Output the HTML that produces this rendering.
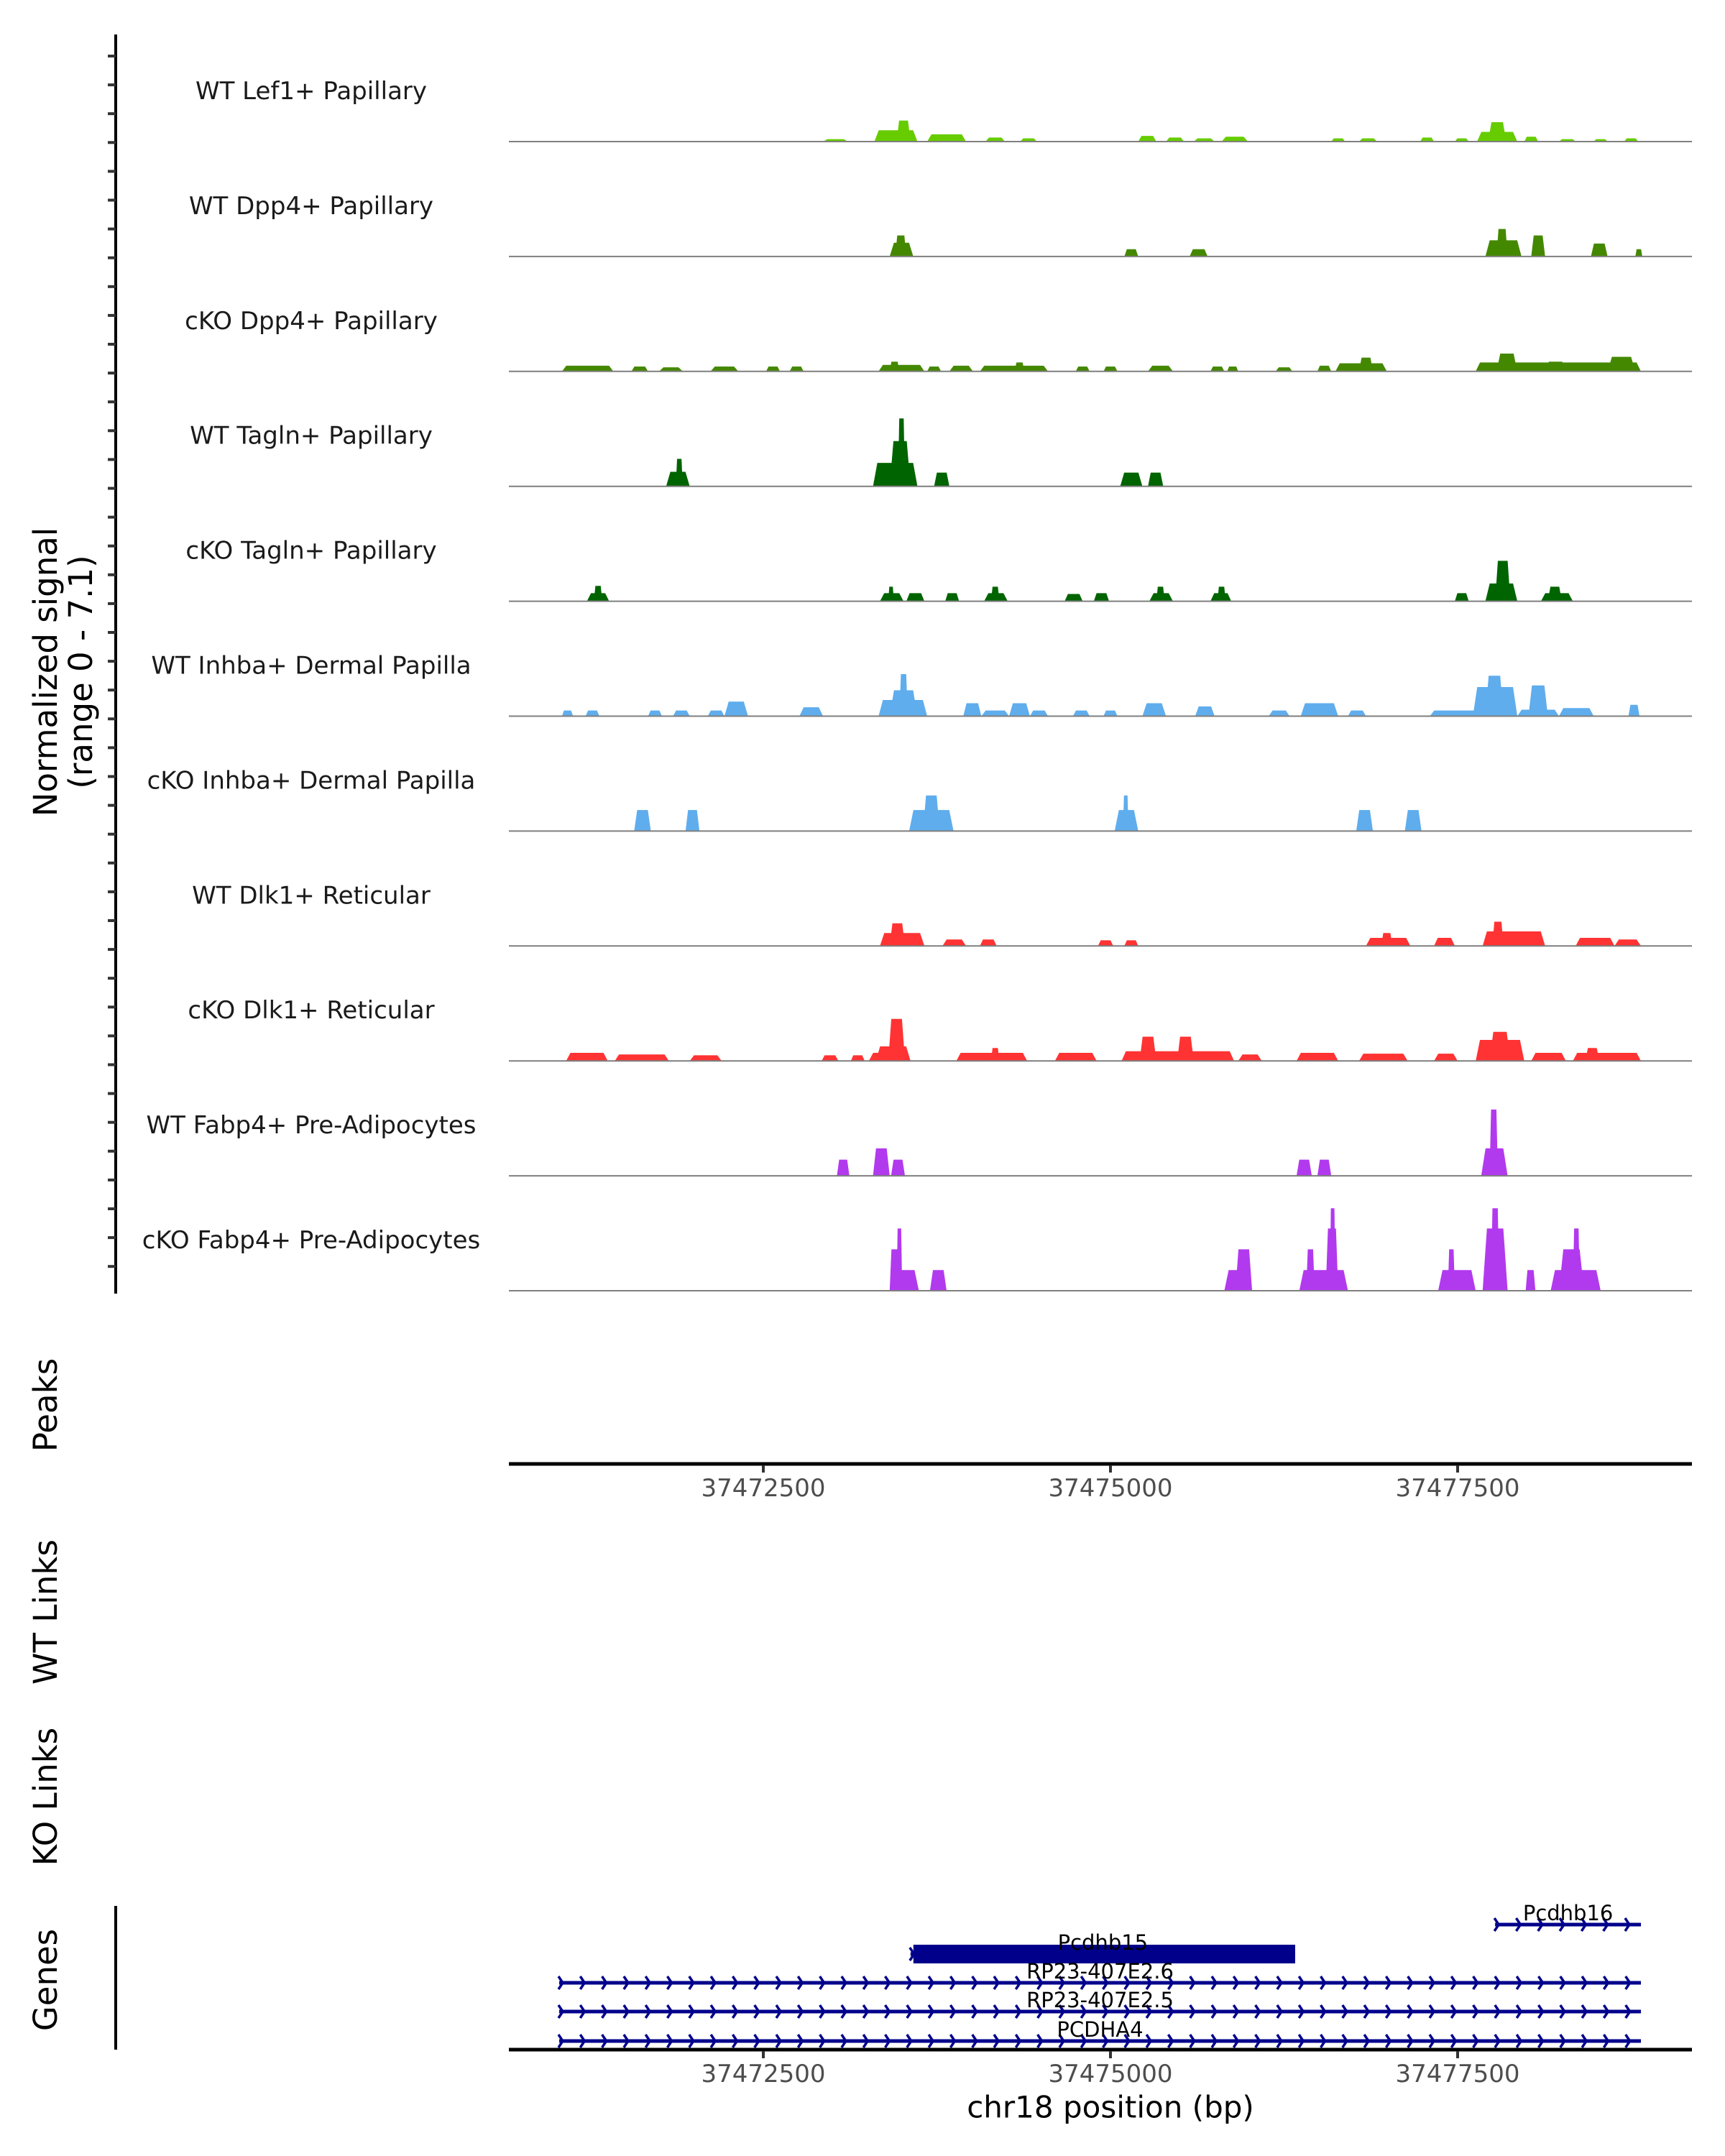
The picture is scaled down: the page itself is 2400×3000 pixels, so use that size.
<!DOCTYPE html>
<html><head><meta charset="utf-8"><title>Coverage plot chr18</title>
<style>
html,body{margin:0;padding:0;background:#fff;}
svg{display:block;font-family:"DejaVu Sans","Liberation Sans",sans-serif;}
</style></head>
<body>
<svg id="chart" width="2400" height="3000" viewBox="0 0 2400 3000" xmlns="http://www.w3.org/2000/svg"></svg>
<script>
// ---- data ----
const trackNames = ["WT Lef1+ Papillary","WT Dpp4+ Papillary","cKO Dpp4+ Papillary","WT Tagln+ Papillary","cKO Tagln+ Papillary","WT Inhba+ Dermal Papilla","cKO Inhba+ Dermal Papilla","WT Dlk1+ Reticular","cKO Dlk1+ Reticular","WT Fabp4+ Pre-Adipocytes","cKO Fabp4+ Pre-Adipocytes"];
const trackColors = ["#66cc00","#448800","#448800","#006400","#006400","#5faded","#5faded","#ff3333","#ff3333","#b23aee","#b23aee"];
const xTicks = [37472500,37475000,37477500];
const xTickLabels = ["37472500","37475000","37477500"];
// peaks per track: [startBp, endBp, value]
const lef1WT = [[37472930,37473110,0.15],[37473300,37473610,0.7],[37473460,37473560,1.3],[37473680,37473960,0.45],[37474100,37474240,0.25],[37474350,37474470,0.2],[37475200,37475330,0.35],[37475400,37475530,0.25],[37475600,37475750,0.2],[37475800,37475990,0.3],[37476590,37476690,0.2],[37476790,37476920,0.2],[37477230,37477330,0.25],[37477480,37477580,0.2],[37477640,37477930,0.6],[37477720,37477850,1.2],[37477980,37478080,0.3],[37478230,37478350,0.15],[37478480,37478580,0.15],[37478700,37478800,0.2]];
const dpp4WT = [[37473410,37473580,0.85],[37473450,37473530,1.3],[37475100,37475200,0.45],[37475570,37475700,0.45],[37477700,37477960,1.0],[37477780,37477860,1.7],[37478030,37478130,1.3],[37478460,37478580,0.8],[37478780,37478830,0.45]];
const dpp4KO = [[37471050,37471420,0.35],[37471550,37471670,0.3],[37471750,37471920,0.25],[37472120,37472320,0.3],[37472520,37472620,0.3],[37472690,37472790,0.3],[37473330,37473660,0.4],[37473410,37473480,0.6],[37473680,37473780,0.3],[37473840,37474010,0.35],[37474060,37474550,0.35],[37474310,37474380,0.55],[37474750,37474850,0.3],[37474950,37475050,0.3],[37475270,37475450,0.35],[37475720,37475820,0.3],[37475840,37475920,0.3],[37476190,37476310,0.25],[37476490,37476590,0.35],[37476620,37476990,0.5],[37476790,37476890,0.85],[37477630,37478820,0.55],[37477780,37477930,1.1],[37478130,37478280,0.6],[37478580,37478780,0.9]];
const taglnWT = [[37471800,37471970,0.9],[37471870,37471920,1.7],[37473290,37473610,1.45],[37473410,37473560,2.8],[37473470,37473520,4.2],[37473730,37473840,0.85],[37475070,37475230,0.85],[37475270,37475380,0.85]];
const taglnKO = [[37471230,37471390,0.5],[37471280,37471340,0.95],[37473340,37473510,0.5],[37473400,37473440,0.9],[37473530,37473660,0.5],[37473810,37473910,0.5],[37474090,37474260,0.5],[37474140,37474200,0.9],[37474670,37474800,0.45],[37474880,37474990,0.5],[37475280,37475450,0.5],[37475330,37475390,0.9],[37475720,37475870,0.5],[37475770,37475830,0.9],[37477480,37477580,0.5],[37477700,37477930,1.1],[37477770,37477880,2.5],[37478100,37478330,0.5],[37478150,37478250,0.9]];
const inhbaWT = [[37471050,37471130,0.35],[37471220,37471320,0.35],[37471670,37471770,0.35],[37471850,37471970,0.35],[37472100,37472220,0.35],[37472220,37472390,0.9],[37472760,37472930,0.55],[37473330,37473680,1.0],[37473410,37473610,1.6],[37473480,37473540,2.6],[37473940,37474070,0.8],[37474070,37474270,0.35],[37474270,37474420,0.8],[37474420,37474550,0.35],[37474730,37474850,0.35],[37474950,37475050,0.35],[37475230,37475400,0.8],[37475610,37475750,0.6],[37476140,37476290,0.35],[37476370,37476640,0.8],[37476710,37476840,0.35],[37477300,37477830,0.35],[37477610,37477930,1.8],[37477700,37477830,2.5],[37477930,37478230,0.4],[37478010,37478150,1.9],[37478230,37478480,0.5],[37478730,37478810,0.7]];
const inhbaKO = [[37471570,37471690,1.3],[37471940,37472040,1.3],[37473550,37473870,1.3],[37473650,37473770,2.2],[37475030,37475200,1.3],[37475090,37475130,2.2],[37476770,37476890,1.3],[37477120,37477240,1.3]];
const dlk1WT = [[37473340,37473660,0.8],[37473410,37473520,1.4],[37473790,37473960,0.4],[37474060,37474180,0.4],[37474910,37475020,0.35],[37475100,37475200,0.35],[37476840,37477160,0.5],[37476950,37477030,0.8],[37477330,37477480,0.5],[37477680,37478130,0.9],[37477750,37477830,1.5],[37478350,37478630,0.5],[37478630,37478820,0.4]];
const dlk1KO = [[37471080,37471380,0.5],[37471430,37471820,0.4],[37471970,37472200,0.35],[37472920,37473040,0.35],[37473130,37473230,0.35],[37473260,37473510,0.5],[37473310,37473560,0.9],[37473400,37473520,2.6],[37473890,37474400,0.5],[37474140,37474200,0.8],[37474600,37474900,0.5],[37475080,37475890,0.6],[37475210,37475330,1.5],[37475480,37475600,1.5],[37475920,37476090,0.4],[37476340,37476640,0.5],[37476790,37477140,0.45],[37477330,37477500,0.45],[37477630,37477980,1.3],[37477730,37477880,1.8],[37478030,37478280,0.5],[37478330,37478820,0.5],[37478420,37478520,0.8]];
const fabp4WT = [[37473030,37473120,1.0],[37473290,37473410,1.7],[37473420,37473520,1.0],[37476340,37476450,1.0],[37476490,37476590,1.0],[37477670,37477860,1.7],[37477730,37477790,4.1]];
const fabp4KO = [[37473410,37473620,1.28],[37473410,37473480,2.56],[37473460,37473500,3.85],[37473700,37473820,1.28],[37475820,37476020,1.28],[37475900,37476020,2.56],[37476360,37476710,1.28],[37476410,37476470,2.56],[37476550,37476640,3.85],[37476580,37476620,5.1],[37477360,37477630,1.28],[37477430,37477480,2.56],[37477680,37477860,3.85],[37477740,37477800,5.1],[37477990,37478060,1.28],[37478170,37478530,1.28],[37478230,37478410,2.56],[37478330,37478380,3.85]];
const trackPeaks = [lef1WT,dpp4WT,dpp4KO,taglnWT,taglnKO,inhbaWT,inhbaKO,dlk1WT,dlk1KO,fabp4WT,fabp4KO];
// genes
const geneNames = ["Pcdhb16","Pcdhb15","RP23-407E2.6","RP23-407E2.5","PCDHA4"];
const geneStarts = [37477770,37473560,37471030,37471030,37471030];
const geneEnds = [37478820,37476330,37478820,37478820,37478820];
const geneThick = [false,true,false,false,false];

// ---- layout ----
const NS = "http://www.w3.org/2000/svg";
const svg = document.getElementById("chart");
const X0 = 708, X1 = 2354;
function x(bp){ return 1545 + (bp - 37475000) * 0.1932; }
function baseY(i){ return 197 + i * 159.9; }
function yv(v){ return v * 22.5; }
function mk(tag, attrs, parent){
  const e = document.createElementNS(NS, tag);
  for (const k in attrs) e.setAttribute(k, attrs[k]);
  (parent || svg).appendChild(e);
  return e;
}
function txt(s, attrs, parent){ const t = mk("text", attrs, parent); t.textContent = s; return t; }

// left axis
const ax = mk("line",{x1:161,y1:48,x2:161,y2:1800,stroke:"#000","stroke-width":4});


for (let ty = 78; ty <= 1800; ty += 40.1){
  const tk = mk("line",{x1:150,y1:ty,x2:161,y2:ty,stroke:"#333","stroke-width":4});
  
  
}
const yt1 = txt("Normalized signal",{x:0,y:0,transform:"translate(79,935) rotate(-90)","text-anchor":"middle","font-size":45,fill:"#000"});


const yt2 = txt("(range 0 - 7.1)",{x:0,y:0,transform:"translate(128,935) rotate(-90)","text-anchor":"middle","font-size":45,fill:"#000"});



// tracks
trackNames.forEach((name, i) => {
  const by = baseY(i);
  const g = mk("g",{});
  
  
  trackPeaks[i].forEach(p => {
    const s = x(p[0]), e = x(p[1]), h = yv(p[2]);
    const inset = Math.min((e - s) * 0.18, 6);
    const poly = mk("polygon",{points:`${s},${by} ${s+inset},${by-h} ${e-inset},${by-h} ${e},${by}`,fill:trackColors[i]}, g);
    
    
  });
  const bl = mk("line",{x1:X0,y1:by,x2:X1,y2:by,stroke:"#7f7f7f","stroke-width":2}, g);
  
  
  const lb = txt(name,{x:433,y:by-70,"text-anchor":"middle","dominant-baseline":"central","font-size":34,fill:"#1a1a1a"});
  
  
});

// side titles
[["Peaks",1955,"peaks-title"],["WT Links",2243,"wt-links-title"],["KO Links",2500,"ko-links-title"],["Genes",2755,"genes-title"]].forEach(a => {
  const t = txt(a[0],{x:0,y:0,transform:`translate(79,${a[1]}) rotate(-90)`,"text-anchor":"middle","font-size":45,fill:"#000"});
  
  
});

// x axes
function xAxis(yAx, nm){
  const l = mk("line",{x1:X0,y1:yAx,x2:X1,y2:yAx,stroke:"#000","stroke-width":5});
  
  
  xTicks.forEach((t, k) => {
    const tk = mk("line",{x1:x(t),y1:yAx+2,x2:x(t),y2:yAx+12,stroke:"#333","stroke-width":4});
    
    
    const tl = txt(xTickLabels[k],{x:x(t),y:yAx+34,"text-anchor":"middle","dominant-baseline":"central","font-size":34,fill:"#4d4d4d"});
    
    
  });
}
xAxis(2037,'peaks-x-axis');
xAxis(2852,'genes-x-axis');
const xl = txt("chr18 position (bp)",{x:1545,y:2932,"text-anchor":"middle","dominant-baseline":"central","font-size":42,fill:"#000"});



// genes axis
const gax = mk("line",{x1:161,y1:2652,x2:161,y2:2852,stroke:"#000","stroke-width":4});



const geneY = [2678, 2719, 2759, 2799, 2840];
geneNames.forEach((nm, i) => {
  const gy = geneY[i];
  const s = x(geneStarts[i]), e = x(geneEnds[i]);
  const g = mk("g",{});
  
  
  const ln = mk("line",{x1:s,y1:gy,x2:e,y2:gy,stroke:"#00008b","stroke-width":5}, g);
  
  
  if (geneThick[i]){
    const r = mk("rect",{x:s+4,y:gy-13,width:e-s-4,height:26,fill:"#00008b"}, g);
    
    
  }
  const step = 30.3;
  for (let cx = s + 3; cx <= e + 1; cx += step){
    if (geneThick[i] && cx > s + 6 && cx < e - 6) continue;
    const ch = mk("polyline",{points:`${cx-4},${gy-9} ${cx+2},${gy} ${cx-4},${gy+9}`,fill:"none",stroke:"#00008b","stroke-width":3.5}, g);
    
    
  }
  const lt = txt(nm,{x:(s+e)/2,y:gy-6,"text-anchor":"middle","font-size":29,fill:"#000"}, g);
  
  
});
</script>
</body></html>
